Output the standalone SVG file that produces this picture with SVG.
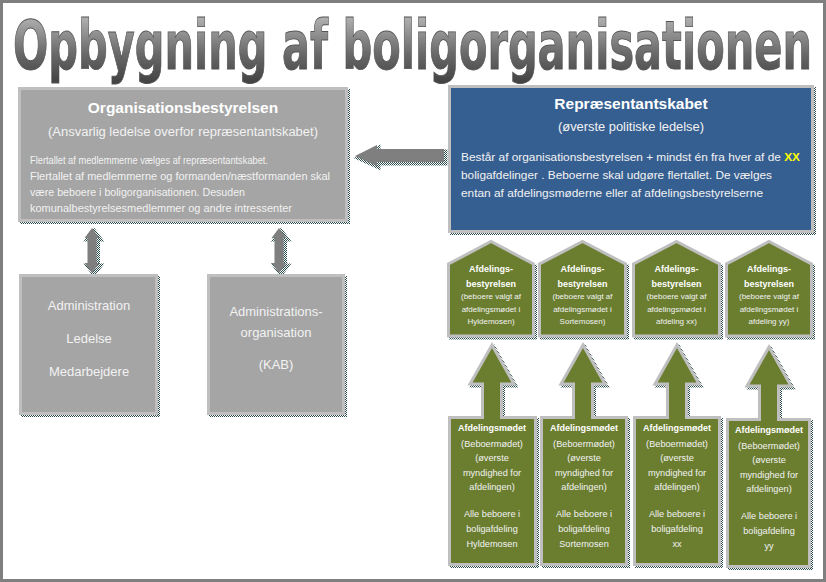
<svg xmlns="http://www.w3.org/2000/svg" width="826" height="582" viewBox="0 0 826 582">
<defs>
<linearGradient id="titleGrad" x1="0" y1="0" x2="0" y2="1">
<stop offset="0.15" stop-color="#b0b0b0"/>
<stop offset="0.6" stop-color="#6a6a6a"/>
<stop offset="1" stop-color="#3f3f3f"/>
</linearGradient>
<pattern id="dots" width="2" height="2" patternUnits="userSpaceOnUse">
<rect width="1" height="1" fill="#2a4c4c"/>
<rect x="1" y="1" width="1" height="1" fill="#2a4c4c"/>
</pattern>
<style>
.frame{fill:#ffffff;stroke:#7f7f7f;stroke-width:3}
.gbox{fill:#a5a5a5;stroke:#bfbfbf;stroke-width:3}
.bbox{fill:#365f91;stroke:#bfbfbf;stroke-width:3}
.green{fill:#6b7e30;stroke:#bfbfbf;stroke-width:3;stroke-linejoin:miter}
.shadow{fill:url(#dots);stroke:url(#dots);stroke-width:3}
.arrow{fill:#7f7f7f}
.t{font-family:"Liberation Sans",Arial,sans-serif;fill:#f2f2f2}
.c{text-anchor:middle}
.b{font-weight:bold;fill:#ffffff}
.h{font-size:15.5px}
.s{font-size:12px}
.body{font-size:10.5px}
.adm{font-size:13px}
.pb{font-size:9px}
.pr{font-size:8px}
.cr{font-size:9.2px}
</style>
</defs>
<rect class="frame" x="1.5" y="1.5" width="823" height="579"/>

<g id="title">
<text transform="translate(13,69) scale(1,1.7)" x="0" y="0" font-family="'DejaVu Sans Condensed','Liberation Sans',sans-serif" font-weight="bold" font-size="40" fill="url(#titleGrad)" stroke="#555555" stroke-width="0.5" textLength="799" lengthAdjust="spacingAndGlyphs">Opbygning af boligorganisationen</text>
</g>

<g id="connectors">
<polygon class="shadow" stroke="none" points="357,158 379,147 379,151 446,151 446,164 379,164 379,168"/>
<polygon class="arrow" points="355,156 377,145 377,149 444,149 444,162 377,162 377,166"/>
<polygon class="shadow" stroke="none" points="94,230 101.5,240 98.5,240 98.5,265 101.5,265 94,275 86.5,265 89.5,265 89.5,240 86.5,240"/>
<polygon class="arrow" points="92,228 99.5,238 96.5,238 96.5,263 99.5,263 92,273 84.5,263 87.5,263 87.5,238 84.5,238"/>
<polygon class="shadow" stroke="none" points="281,230 288.5,240 285.5,240 285.5,265 288.5,265 281,275 273.5,265 276.5,265 276.5,240 273.5,240"/>
<polygon class="arrow" points="279,228 286.5,238 283.5,238 283.5,263 286.5,263 279,273 271.5,263 274.5,263 274.5,238 271.5,238"/>
</g>

<g id="organisationsbestyrelsen">
<rect class="shadow" x="21.5" y="90.5" width="327" height="132"/>
<rect class="gbox" x="19.5" y="88.5" width="327" height="132"/>
<text class="t c b h" x="183" y="113">Organisationsbestyrelsen</text>
<text class="t c s" x="183" y="136" textLength="270" lengthAdjust="spacingAndGlyphs">(Ansvarlig ledelse overfor repræsentantskabet)</text>
<text class="t body" x="30" y="164" textLength="238" lengthAdjust="spacingAndGlyphs">Flertallet af medlemmerne vælges af repræsentantskabet.</text>
<text class="t body" x="30" y="180" textLength="300" lengthAdjust="spacingAndGlyphs">Flertallet af medlemmerne og formanden/næstformanden skal</text>
<text class="t body" x="30" y="196" textLength="215" lengthAdjust="spacingAndGlyphs">være beboere i boligorganisationen. Desuden</text>
<text class="t body" x="30" y="212" textLength="262" lengthAdjust="spacingAndGlyphs">komunalbestyrelsesmedlemmer og andre intressenter</text>
</g>

<g id="repraesentantskabet">
<rect class="shadow" x="451.5" y="88.5" width="363" height="145"/>
<rect class="bbox" x="449.5" y="86.5" width="363" height="145"/>
<text class="t c b h" x="631" y="109">Repræsentantskabet</text>
<text class="t c s" x="631" y="131" textLength="146" lengthAdjust="spacingAndGlyphs">(øverste politiske ledelse)</text>
<text class="t" font-size="11" x="461" y="161" textLength="339" lengthAdjust="spacingAndGlyphs">Består af organisationsbestyrelsen + mindst én fra hver  af de <tspan font-weight="bold" fill="#ffff00">XX</tspan></text>
<text class="t" font-size="11" x="461" y="179" textLength="311" lengthAdjust="spacingAndGlyphs">boligafdelinger . Beboerne skal udgøre flertallet. De vælges</text>
<text class="t" font-size="11" x="461" y="197" textLength="302" lengthAdjust="spacingAndGlyphs">entan af afdelingsmøderne eller af afdelingsbestyrelserne</text>
</g>

<g id="administration">
<rect class="shadow" x="22.5" y="277.5" width="136" height="138"/>
<rect class="gbox" x="20.5" y="275.5" width="136" height="138"/>
<text class="t c adm" x="89" y="310">Administration</text>
<text class="t c adm" x="89" y="343">Ledelse</text>
<text class="t c adm" x="89" y="376">Medarbejdere</text>
</g>

<g id="administrationsorganisation">
<rect class="shadow" x="210.5" y="277.5" width="135" height="138"/>
<rect class="gbox" x="208.5" y="275.5" width="135" height="138"/>
<text class="t c adm" x="276" y="316">Administrations-</text>
<text class="t c adm" x="276" y="337">organisation</text>
<text class="t c adm" x="276" y="369">(KAB)</text>
</g>

<g id="afdelingsbestyrelsen-hyldemosen">
<path class="shadow" d="M450.5,338 V266 L493,243.5 L535.5,266 V338 Z"/>
<path class="green" d="M448.5,336 V264 L491,241.5 L533.5,264 V336 Z"/>
<text class="t c b pb" x="491" y="272">Afdelings-</text>
<text class="t c b pb" x="491" y="287">bestyrelsen</text>
<text class="t c pr" x="491" y="299">(beboere valgt af</text>
<text class="t c pr" x="491" y="312">afdelingsmødet i</text>
<text class="t c pr" x="491" y="324">Hyldemosen)</text>
</g>

<g id="afdelingsbestyrelsen-sortemosen">
<path class="shadow" d="M541.5,338 V266 L584.5,243.5 L627.5,266 V338 Z"/>
<path class="green" d="M539.5,336 V264 L582.5,241.5 L625.5,264 V336 Z"/>
<text class="t c b pb" x="582.5" y="272">Afdelings-</text>
<text class="t c b pb" x="582.5" y="287">bestyrelsen</text>
<text class="t c pr" x="582.5" y="299">(beboere valgt af</text>
<text class="t c pr" x="582.5" y="312">afdelingsmødet i</text>
<text class="t c pr" x="582.5" y="324">Sortemosen)</text>
</g>

<g id="afdelingsbestyrelsen-xx">
<path class="shadow" d="M635.5,338 V266 L678.5,243.5 L721.5,266 V338 Z"/>
<path class="green" d="M633.5,336 V264 L676.5,241.5 L719.5,264 V336 Z"/>
<text class="t c b pb" x="676.5" y="272">Afdelings-</text>
<text class="t c b pb" x="676.5" y="287">bestyrelsen</text>
<text class="t c pr" x="676.5" y="299">(beboere valgt af</text>
<text class="t c pr" x="676.5" y="312">afdelingsmødet i</text>
<text class="t c pr" x="676.5" y="324">afdeling xx)</text>
</g>

<g id="afdelingsbestyrelsen-yy">
<path class="shadow" d="M728.5,338 V266 L771,243.5 L813.5,266 V338 Z"/>
<path class="green" d="M726.5,336 V264 L769,241.5 L811.5,264 V336 Z"/>
<text class="t c b pb" x="769" y="272">Afdelings-</text>
<text class="t c b pb" x="769" y="287">bestyrelsen</text>
<text class="t c pr" x="769" y="299">(beboere valgt af</text>
<text class="t c pr" x="769" y="312">afdelingsmødet i</text>
<text class="t c pr" x="769" y="324">afdeling yy)</text>
</g>

<g id="afdelingsmoedet-hyldemosen">
<path class="shadow" d="M451.5,419.5 H484.5 V386 H472 L494,347 L516,386 H503.5 V419.5 H537.5 V566.5 H451.5 Z"/>
<path class="green" d="M449.5,417.5 H482.5 V384 H470 L492,345 L514,384 H501.5 V417.5 H535.5 V564.5 H449.5 Z"/>
<text class="t c b pb" x="492" y="431">Afdelingsmødet</text>
<text class="t c cr" x="492" y="447">(Beboermødet)</text>
<text class="t c cr" x="492" y="461">(øverste</text>
<text class="t c cr" x="492" y="476">myndighed for</text>
<text class="t c cr" x="492" y="490">afdelingen)</text>
<text class="t c cr" x="492" y="517">Alle beboere i</text>
<text class="t c cr" x="492" y="532">boligafdeling</text>
<text class="t c cr" x="492" y="547">Hyldemosen</text>
</g>

<g id="afdelingsmoedet-sortemosen">
<path class="shadow" d="M543.5,419.5 H575.5 V386 H563 L585,347 L607,386 H594.5 V419.5 H628.5 V566.5 H543.5 Z"/>
<path class="green" d="M541.5,417.5 H573.5 V384 H561 L583,345 L605,384 H592.5 V417.5 H626.5 V564.5 H541.5 Z"/>
<text class="t c b pb" x="584" y="431">Afdelingsmødet</text>
<text class="t c cr" x="584" y="447">(Beboermødet)</text>
<text class="t c cr" x="584" y="461">(øverste</text>
<text class="t c cr" x="584" y="476">myndighed for</text>
<text class="t c cr" x="584" y="490">afdelingen)</text>
<text class="t c cr" x="584" y="517">Alle beboere i</text>
<text class="t c cr" x="584" y="532">boligafdeling</text>
<text class="t c cr" x="584" y="547">Sortemosen</text>
</g>

<g id="afdelingsmoedet-xx">
<path class="shadow" d="M636.5,419.5 H669.5 V386 H657 L679,347 L701,386 H688.5 V419.5 H721.5 V566.5 H636.5 Z"/>
<path class="green" d="M634.5,417.5 H667.5 V384 H655 L677,345 L699,384 H686.5 V417.5 H719.5 V564.5 H634.5 Z"/>
<text class="t c b pb" x="677" y="431">Afdelingsmødet</text>
<text class="t c cr" x="677" y="447">(Beboermødet)</text>
<text class="t c cr" x="677" y="461">(øverste</text>
<text class="t c cr" x="677" y="476">myndighed for</text>
<text class="t c cr" x="677" y="490">afdelingen)</text>
<text class="t c cr" x="677" y="517">Alle beboere i</text>
<text class="t c cr" x="677" y="532">boligafdeling</text>
<text class="t c cr" x="677" y="547">xx</text>
</g>

<g id="afdelingsmoedet-yy">
<path class="shadow" d="M729.5,421.5 H761.5 V388 H749 L771,349 L793,388 H780.5 V421.5 H811.5 V568.5 H729.5 Z"/>
<path class="green" d="M727.5,419.5 H759.5 V386 H747 L769,347 L791,386 H778.5 V419.5 H809.5 V566.5 H727.5 Z"/>
<text class="t c b pb" x="769" y="433">Afdelingsmødet</text>
<text class="t c cr" x="769" y="449">(Beboermødet)</text>
<text class="t c cr" x="769" y="463">(øverste</text>
<text class="t c cr" x="769" y="478">myndighed for</text>
<text class="t c cr" x="769" y="492">afdelingen)</text>
<text class="t c cr" x="769" y="519">Alle beboere i</text>
<text class="t c cr" x="769" y="534">boligafdeling</text>
<text class="t c cr" x="769" y="549">yy</text>
</g>
</svg>
